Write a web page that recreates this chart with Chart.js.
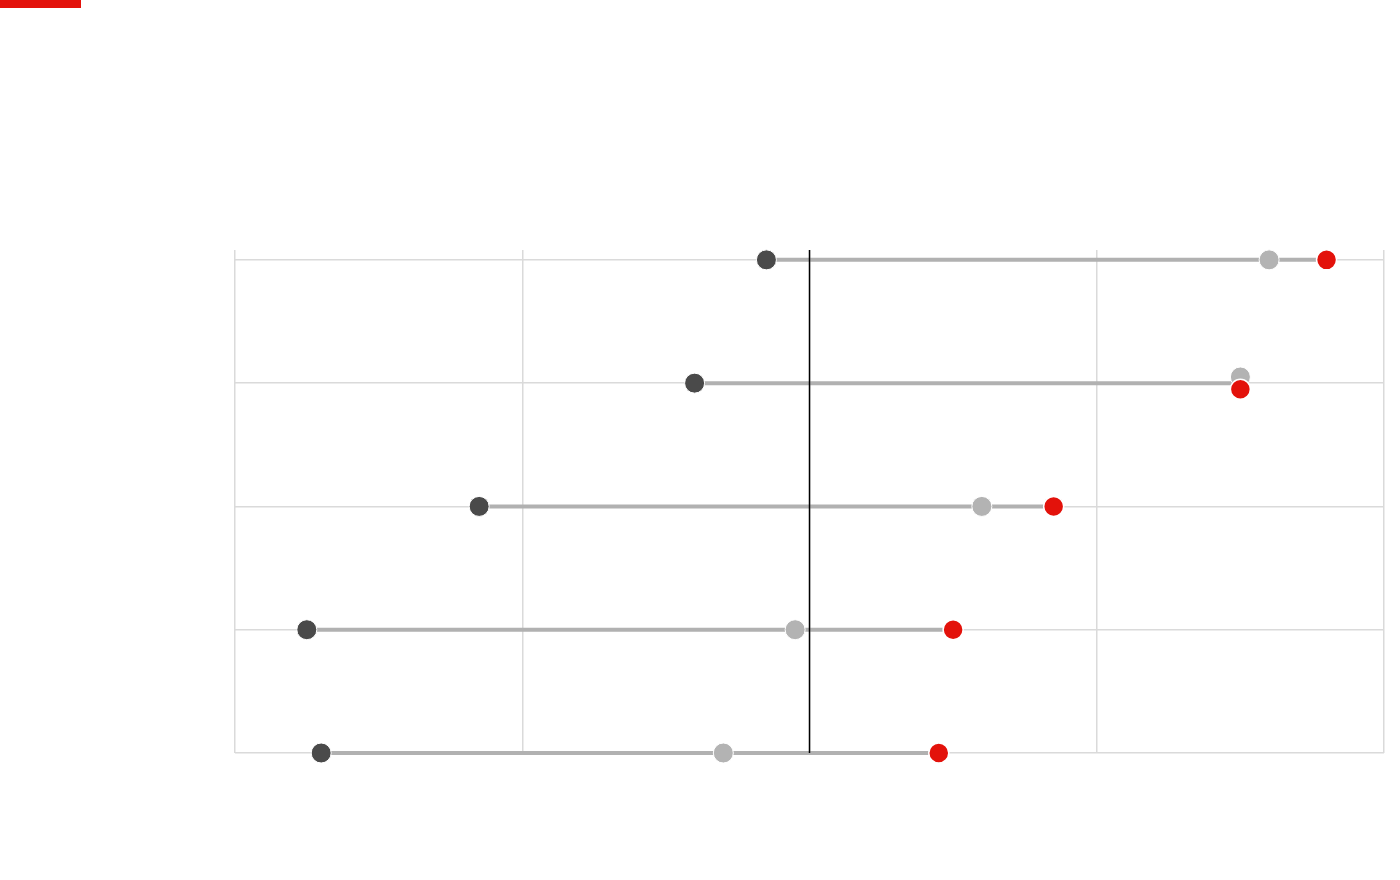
<!DOCTYPE html>
<html>
<head>
<meta charset="utf-8">
<style>
  html, body { margin: 0; padding: 0; background: #fff; }
  #wrap { position: relative; width: 1400px; height: 880px; }
  #redbar { position: absolute; left: 0; top: 0; width: 81px; height: 8px; background: #e3120b; }
  canvas { position: absolute; left: 0; top: 0; }
</style>
<script src="https://cdn.jsdelivr.net/npm/chart.js@4.4.1/dist/chart.umd.min.js"></script>
</head>
<body>
<div id="wrap">
  <canvas id="dumbbell" width="1400" height="880"></canvas>
  <div id="redbar"></div>
</div>
<script>
// rows, top to bottom (no labels shown in the picture)
const rows = ['r1', 'r2', 'r3', 'r4', 'r5'];
const startVals = [-0.75, -2.0, -5.75, -8.75, -8.5];  // dark dots
const midVals   = [8.0, 7.5, 3.0, -0.25, -1.5];       // grey dots
const endVals   = [9.0, 7.5, 4.25, 2.5, 2.25];        // red dots
const xTicks = [-10, -5, 0, 5, 10];

// nudge grey/red apart when they sit on the same value
function rowY(i, dir) {
    return midVals[i] === endVals[i] ? i + dir * 0.05 : i;
}

const connectors = rows.map((r, i) => ({
    type: 'line',
    data: [
        { x: Math.min(startVals[i], midVals[i], endVals[i]), y: i },
        { x: Math.max(startVals[i], midVals[i], endVals[i]), y: i }
    ],
    borderColor: '#b1b1b1',
    borderWidth: 4,
    pointRadius: 0,
    clip: false,
    order: 5
}));

const datasets = connectors.concat([
    {
        type: 'line',
        data: [{ x: 0, y: -0.08 }, { x: 0, y: 4 }],
        borderColor: '#000',
        borderWidth: 1.5,
        pointRadius: 0,
        order: 4
    },
    {
        type: 'scatter',
        data: startVals.map((v, i) => ({ x: v, y: i })),
        backgroundColor: '#4a4a4a',
        borderColor: '#fff',
        borderWidth: 1,
        pointRadius: 10,
        clip: false,
        order: 3
    },
    {
        type: 'scatter',
        data: midVals.map((v, i) => ({ x: v, y: rowY(i, -1) })),
        backgroundColor: '#b3b3b3',
        borderColor: '#fff',
        borderWidth: 1,
        pointRadius: 10,
        clip: false,
        order: 2
    },
    {
        type: 'scatter',
        data: endVals.map((v, i) => ({ x: v, y: rowY(i, 1) })),
        backgroundColor: '#e3120b',
        borderColor: '#fff',
        borderWidth: 1.5,
        pointRadius: 10,
        clip: false,
        order: 1
    }
]);

new Chart(document.getElementById('dumbbell'), {
    type: 'scatter',
    data: { datasets: datasets },
    options: {
        responsive: false,
        animation: false,
        layout: { padding: { left: 235, right: 16, top: 250, bottom: 127 } },
        plugins: { legend: { display: false }, tooltip: { enabled: false } },
        scales: {
            x: {
                type: 'linear',
                min: -10,
                max: 10,
                afterBuildTicks: axis => { axis.ticks = xTicks.map(v => ({ value: v })); },
                ticks: { display: false },
                grid: { color: '#dadada', lineWidth: 1.5, drawTicks: false },
                border: { display: false }
            },
            y: {
                type: 'linear',
                reverse: true,
                min: -0.08,
                max: 4,
                afterBuildTicks: axis => { axis.ticks = rows.map((r, i) => ({ value: i })); },
                ticks: { display: false },
                grid: { color: '#dadada', lineWidth: 1.5, drawTicks: false },
                border: { display: false }
            }
        }
    }
});
</script>
</body>
</html>
